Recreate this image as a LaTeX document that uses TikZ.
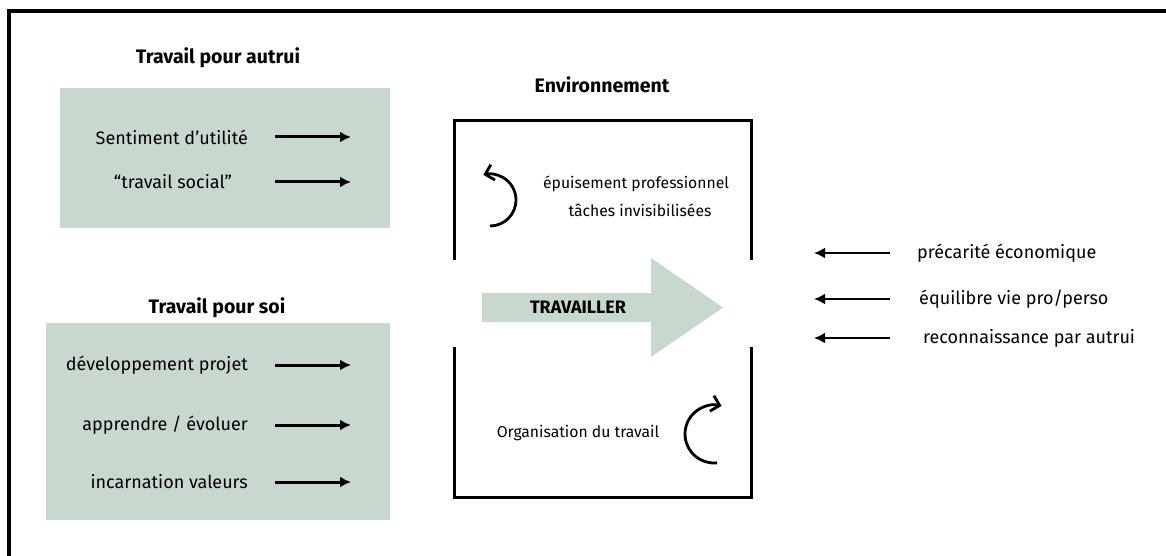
\documentclass[tikz,border=0pt]{standalone}
\usepackage{fontspec}
\setmainfont{Fira Sans}
\usetikzlibrary{arrows.meta}
\definecolor{sage}{HTML}{C9D8CE}
\tikzset{
  frame/.style={line width=3.2pt},
  envline/.style={line width=3pt},
  title/.style={font=\fontsize{19.5}{22}\selectfont\bfseries, inner sep=0pt},
  item/.style={font=\fontsize{18}{20}\selectfont, inner sep=0pt},
  envitem/.style={font=\fontsize{15.7}{18}\selectfont, inner sep=0pt},
  push/.style={line width=3pt, -{Latex[length=11pt,width=11pt]}},
  pushback/.style={line width=2.7pt, -{Latex[length=11pt,width=11pt]}},
  loop/.style={line width=2.8pt, -{Straight Barb[length=8pt,width=16pt]}},
  panel/.style={fill=sage, draw=none}
}
\begin{document}
\begin{tikzpicture}[x=1pt,y=-1pt]
\useasboundingbox (0,0) rectangle (1166,556);
% outer frame (top and left only)
\draw[frame] (9,556) -- (9,11) -- (1166,11);

% left panels
\fill[panel] (60,88) rectangle (390,228);
\fill[panel] (46,323) rectangle (390,520);
\node[title] (t1) at (218,58) {Travail pour autrui};
\node[title] (t2) at (217,308) {Travail pour soi};

\node[item, anchor=east] (a1) at (248,137) {Sentiment d’utilité};
\node[item, anchor=east] (a2) at (232,182) {“travail social”};
\node[item, anchor=east] (b1) at (248,365) {développement projet};
\node[item, anchor=east] (b2) at (248,425) {apprendre / évoluer};
\node[item, anchor=east] (b3) at (248,482) {incarnation valeurs};
\foreach \n/\y in {a1/137,a2/182,b1/365,b2/425,b3/482}{
  \coordinate (\n s) at (275,\y);
  \coordinate (\n e) at (351,\y);
  \draw[push] (\n s) -- (\n e);
}

% environment
\node[title] (env) at (602,85) {Environnement};
\draw[envline] (454,260) -- (454,121) -- (751,121) -- (751,260);
\draw[envline] (454,347) -- (454,497) -- (751,497) -- (751,347);

% big arrow
\fill[sage] (482,293) -- (651,293) -- (651,258) -- (723,307.5) -- (651,357) -- (651,322) -- (482,322) -- cycle;
\node[font=\fontsize{18}{20}\selectfont\bfseries, inner sep=0pt] (trav) at (578,307) {TRAVAILLER};

\node[envitem] (ep) at (636,184) {épuisement professionnel};
\node[envitem] (ti) at (640,210) {tâches invisibilisées};
\node[envitem] (org) at (578,433) {Organisation du travail};

\coordinate (c1) at (490,200);
\draw[loop] (c1) ++(90:26) arc[start angle=90, end angle=-105, radius=26];
\coordinate (c2) at (714,434);
\draw[loop] (c2) ++(84:29) arc[start angle=84, end angle=285, radius=29];

% right side
\node[item, anchor=west] (r1) at (917,253) {précarité économique};
\node[item, anchor=west] (r2) at (919,299) {équilibre vie pro/perso};
\node[item, anchor=west] (r3) at (923,338) {reconnaissance par autrui};
\foreach \n/\y in {r1/253,r2/299,r3/338}{
  \coordinate (\n s) at (890,\y);
  \coordinate (\n e) at (814,\y);
  \draw[pushback] (\n s) -- (\n e);
}
\end{tikzpicture}
\end{document}
